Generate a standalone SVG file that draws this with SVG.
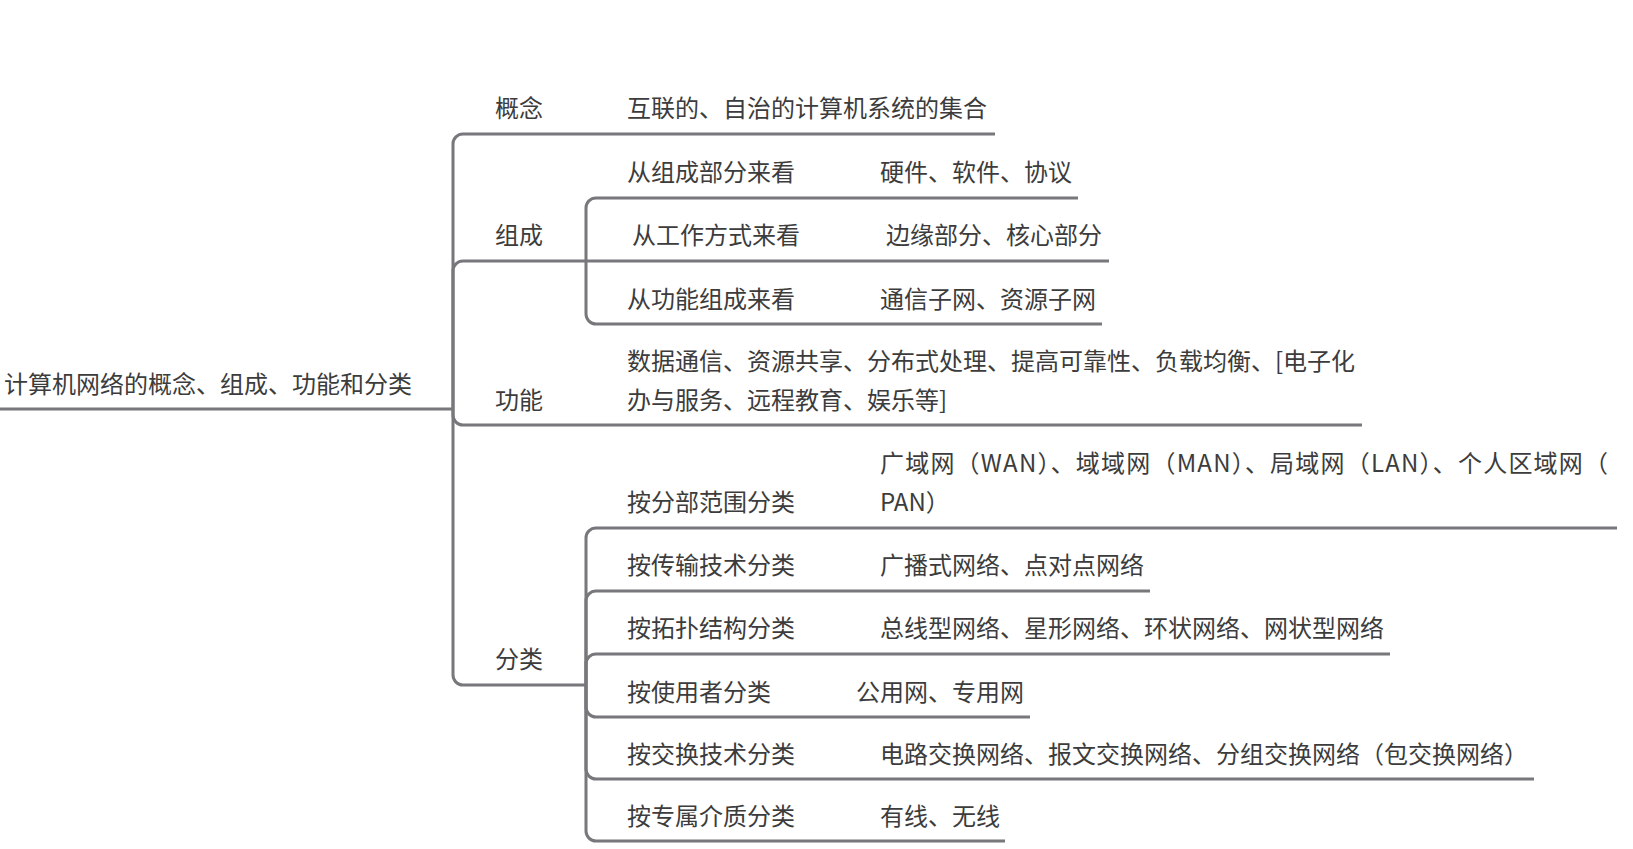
<svg xmlns="http://www.w3.org/2000/svg" width="1633" height="849" viewBox="0 0 1633 849">
<style>
text{font-family:"Noto Sans CJK SC","Liberation Sans",sans-serif;font-size:24px;fill:#3c3c3c}
.ln{fill:none;stroke:#77777c;stroke-width:3;stroke-linecap:butt}
</style>
<rect width="1633" height="849" fill="#ffffff"/>
<g id="connectors" class="ln">
<path d="M453 409 V144 A10 10 0 0 1 463 134"/>
<path d="M453 409 V271 A10 10 0 0 1 463 261"/>
<path d="M453 409 V415 A10 10 0 0 0 463 425"/>
<path d="M453 409 V675 A10 10 0 0 0 463 685"/>
<path d="M586 261 V208 A10 10 0 0 1 596 198"/>
<path d="M586 261 H596"/>
<path d="M586 261 V314 A10 10 0 0 0 596 324"/>
<path d="M586 685 V538 A10 10 0 0 1 596 528"/>
<path d="M586 685 V601 A10 10 0 0 1 596 591"/>
<path d="M586 685 V664 A10 10 0 0 1 596 654"/>
<path d="M586 685 V707 A10 10 0 0 0 596 717"/>
<path d="M586 685 V769 A10 10 0 0 0 596 779"/>
<path d="M586 685 V831 A10 10 0 0 0 596 841"/>
</g>
<g id="root"><text x="4" y="393">计算机网络的概念、组成、功能和分类</text><path class="ln" d="M0 409 H453"/></g>
<g id="n-gainian"><text x="495" y="117">概念</text><text x="627" y="117">互联的、自治的计算机系统的集合</text><path class="ln" d="M463 134 H995"/></g>
<g id="n-zucheng"><text x="495" y="244">组成</text><path class="ln" d="M463 261 H586"/></g>
<g id="n-zc1"><text x="627" y="181">从组成部分来看</text><text x="880" y="181">硬件、软件、协议</text><path class="ln" d="M596 198 H1078"/></g>
<g id="n-zc2"><text x="632" y="244">从工作方式来看</text><text x="886" y="244">边缘部分、核心部分</text><path class="ln" d="M596 261 H1109"/></g>
<g id="n-zc3"><text x="627" y="308">从功能组成来看</text><text x="880" y="308">通信子网、资源子网</text><path class="ln" d="M596 324 H1102"/></g>
<g id="n-gongneng"><text x="495" y="409">功能</text><text x="627" y="370">数据通信、资源共享、分布式处理、提高可靠性、负载均衡、[电子化</text><text x="627" y="409">办与服务、远程教育、娱乐等]</text><path class="ln" d="M463 425 H1362"/></g>
<g id="n-fenlei"><text x="495" y="668">分类</text><path class="ln" d="M463 685 H586"/></g>
<g id="n-fl1"><text x="627" y="511">按分部范围分类</text><text x="880" y="472" textLength="728" lengthAdjust="spacing">广域网（WAN）、域域网（MAN）、局域网（LAN）、个人区域网（</text><text x="880" y="511">PAN）</text><path class="ln" d="M596 528 H1617"/></g>
<g id="n-fl2"><text x="627" y="574">按传输技术分类</text><text x="880" y="574">广播式网络、点对点网络</text><path class="ln" d="M596 591 H1150"/></g>
<g id="n-fl3"><text x="627" y="637">按拓扑结构分类</text><text x="880" y="637">总线型网络、星形网络、环状网络、网状型网络</text><path class="ln" d="M596 654 H1390"/></g>
<g id="n-fl4"><text x="627" y="701">按使用者分类</text><text x="856" y="701">公用网、专用网</text><path class="ln" d="M596 717 H1030"/></g>
<g id="n-fl5"><text x="627" y="763">按交换技术分类</text><text x="880" y="763">电路交换网络、报文交换网络、分组交换网络（包交换网络）</text><path class="ln" d="M596 779 H1534"/></g>
<g id="n-fl6"><text x="627" y="825">按专属介质分类</text><text x="880" y="825">有线、无线</text><path class="ln" d="M596 841 H1005"/></g>
</svg>
